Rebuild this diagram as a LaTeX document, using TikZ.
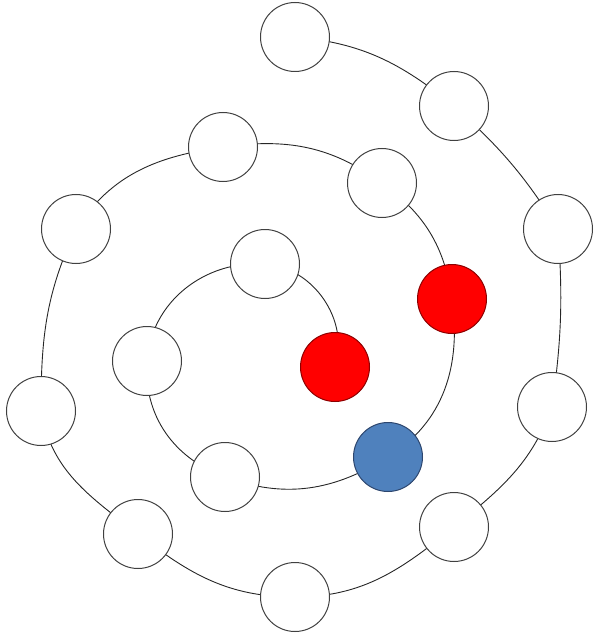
\documentclass[tikz,border=0pt]{standalone}
\usetikzlibrary{backgrounds}
\begin{document}
\begin{tikzpicture}[x=1pt,y=1pt,
  ball/.style={circle,draw=black!75,line width=1pt,fill=white,minimum size=69pt,inner sep=0pt},
  redball/.style={ball,fill=red,draw=red!55!black},
  blueball/.style={ball,fill={rgb,255:red,79;green,129;blue,189},draw={rgb,255:red,45;green,70;blue,110}},
  link/.style={draw=black!85,line width=0.9pt}]
\useasboundingbox (0,-639) rectangle (594,0);
\node[ball] (n1) at (295,-37) {};
\node[ball] (n2) at (454,-106) {};
\node[ball] (n3) at (558,-229) {};
\node[ball] (n4) at (552,-407) {};
\node[ball] (n5) at (454,-527) {};
\node[ball] (n6) at (295,-597) {};
\node[ball] (n7) at (138,-534) {};
\node[ball] (n8) at (41,-411) {};
\node[ball] (n9) at (76,-229) {};
\node[ball] (n10) at (223,-147) {};
\node[ball] (n11) at (382,-183) {};
\node[redball] (n12) at (452,-299) {};
\node[blueball] (n13) at (388,-457) {};
\node[ball] (n14) at (225,-477) {};
\node[ball] (n15) at (147,-361) {};
\node[ball] (n16) at (265,-264) {};
\node[redball] (n17) at (335,-367) {};
\begin{pgfonlayer}{background}
\draw[link] (n1.center) to[out=-5,in=141] (n2.center);
\draw[link] (n2.center) to[out=-42,in=122] (n3.center);
\draw[link] (n3.center) to[out=-86,in=82] (n4.center);
\draw[link] (n4.center) to[out=-110,in=39] (n5.center);
\draw[link] (n5.center) to[out=-141,in=0] (n6.center);
\draw[link] (n6.center) to[out=180,in=-38] (n7.center);
\draw[link] (n7.center) to[out=142,in=-80] (n8.center);
\draw[link] (n8.center) to[out=90,in=-115] (n9.center);
\draw[link] (n9.center) to[out=57,in=-172] (n10.center);
\draw[link] (n10.center) to[out=8,in=144] (n11.center);
\draw[link] (n11.center) to[out=-36,in=98] (n12.center);
\draw[link] (n12.center) to[out=-82,in=32] (n13.center);
\draw[link] (n13.center) to[out=-148,in=-20] (n14.center);
\draw[link] (n14.center) to[out=160,in=-94] (n15.center);
\draw[link] (n15.center) to[out=86,in=176] (n16.center);
\draw[link] (n16.center) to[out=-4,in=72] (n17.center);
\end{pgfonlayer}
\end{tikzpicture}
\end{document}
